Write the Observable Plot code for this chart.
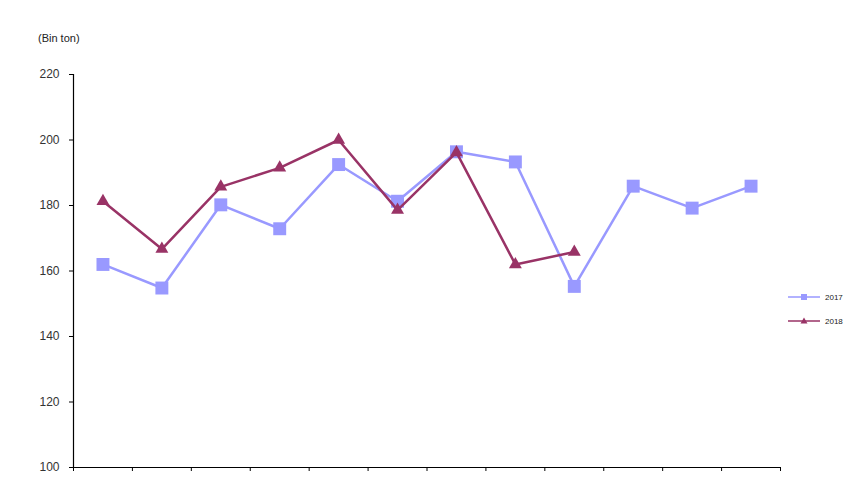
<!DOCTYPE html>
<html><head><meta charset="utf-8">
<script src="https://cdn.jsdelivr.net/npm/d3@7"></script>
<script src="https://cdn.jsdelivr.net/npm/@observablehq/plot@0.6"></script>
<style>
body{margin:0;background:#fff;font-family:"Liberation Sans",Arial,sans-serif;}
#wrap{position:relative;width:860px;height:480px;overflow:hidden;}
#unit{position:absolute;left:38px;top:32px;font-size:11px;color:#222;}
#legend{position:absolute;left:788px;top:285px;font-size:8px;color:#222;}
#legend div{display:flex;align-items:center;height:24px;}
</style></head>
<body><div id="wrap"><div id="unit">(Bin ton)</div><div id="legend"></div></div>
<script>
const months = [1,2,3,4,5,6,7,8,9,10,11,12];
const values2017 = [162, 154.8, 180.2, 172.9, 192.5, 181.3, 196.4, 193.3, 155.3, 185.9, 179.2, 185.9];
const values2018 = [181.3, 166.7, 185.7, 191.5, 200, 178.6, 196.2, 162, 165.8];
const seriesNames = ["2017", "2018"];
const seriesColors = ["#9999FF", "#993366"];
const seriesSymbols = ["square", "triangle"];
const yTicks = [100, 120, 140, 160, 180, 200, 220];

const d17 = values2017.map((v,i)=>({m:months[i], v}));
const d18 = values2018.map((v,i)=>({m:months[i], v}));
const xTicks = d3.range(0.5, 13, 1);

const chart = Plot.plot({
  width: 860, height: 480,
  marginLeft: 73, marginTop: 74, marginBottom: 13, marginRight: 80,
  style: {fontFamily: '"Liberation Sans",Arial,sans-serif', fontSize: "12px", color: "#333", background: "#fff"},
  x: {domain: [0.5, 12.5], ticks: xTicks, tickFormat: () => "", tickSize: 4, label: null},
  y: {domain: [100, 220], ticks: yTicks, tickSize: 4, label: null},
  marks: [
    Plot.ruleX([0.5], {stroke: "#000", strokeWidth: 1.2}),
    Plot.ruleY([100], {stroke: "#000", strokeWidth: 1.2}),
    Plot.line(d17, {x: "m", y: "v", stroke: seriesColors[0], strokeWidth: 2.5}),
    Plot.dot(d17, {x: "m", y: "v", symbol: seriesSymbols[0], fill: seriesColors[0], r: 7.3}),
    Plot.line(d18, {x: "m", y: "v", stroke: seriesColors[1], strokeWidth: 2.5}),
    Plot.dot(d18, {x: "m", y: "v", symbol: seriesSymbols[1], fill: seriesColors[1], r: 4.8}),
    Plot.axisX({ticks: xTicks, tickFormat: () => "", tickSize: 4, stroke: "#000"}),
    Plot.axisY({ticks: yTicks, tickSize: 4, tickPadding: 10, stroke: "#000"})
  ]
});
document.getElementById("wrap").prepend(chart);

const leg = document.getElementById("legend");
seriesNames.forEach((n,i)=>{
  const row = document.createElement("div");
  const sym = seriesSymbols[i] === "square"
    ? `<rect x="13" y="3" width="6" height="6" fill="${seriesColors[i]}"/>`
    : `<path d="M16,2.5 L19.5,8.5 L12.5,8.5 Z" fill="${seriesColors[i]}"/>`;
  row.innerHTML = `<svg width="34" height="12"><line x1="0" y1="6" x2="32" y2="6" stroke="${seriesColors[i]}" stroke-width="1.5"/>${sym}</svg><span style="margin-left:3px">${n}</span>`;
  leg.appendChild(row);
});
</script></body></html>
